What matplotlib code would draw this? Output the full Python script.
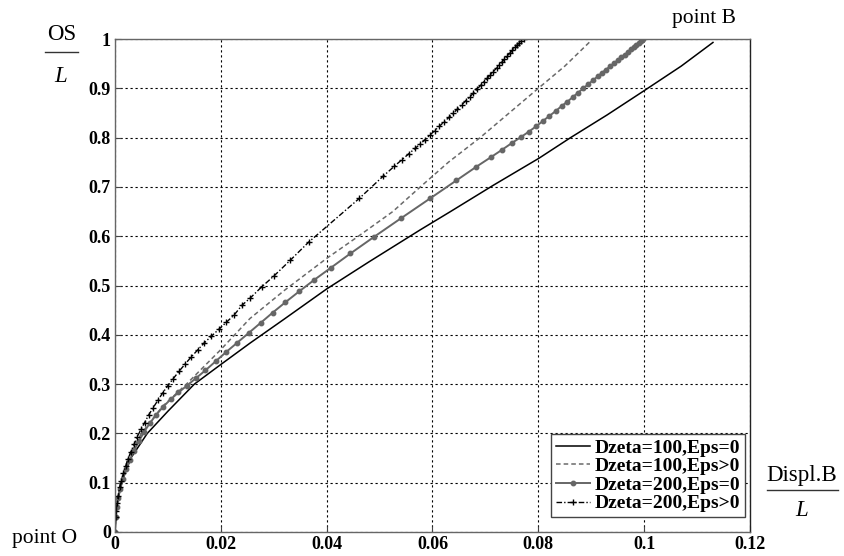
import matplotlib
matplotlib.use("Agg")
import matplotlib.pyplot as plt
from matplotlib.lines import Line2D

# Dzeta=100, Eps=0
x_d100_e0 = [0, 0.0003, 0.0012, 0.003, 0.0061, 0.010, 0.015, 0.0199, 0.0255, 0.032,
             0.040, 0.048, 0.0577, 0.0634, 0.0716, 0.0801, 0.0861, 0.0930, 0.1002, 0.107, 0.113]
y_d100_e0 = [0, 0.05, 0.10, 0.15, 0.20, 0.245, 0.30, 0.339, 0.383, 0.432,
             0.493, 0.548, 0.613, 0.65, 0.704, 0.758, 0.80, 0.846, 0.8966, 0.945, 0.993]

# Dzeta=100, Eps>0
x_d100_ep = [0, 0.0003, 0.001, 0.0025, 0.005, 0.009, 0.0135, 0.02, 0.0255, 0.032,
             0.040, 0.046, 0.0525, 0.0577, 0.063, 0.069, 0.0745, 0.080, 0.085, 0.0898]
y_d100_ep = [0, 0.05, 0.10, 0.15, 0.20, 0.255, 0.30, 0.37, 0.433, 0.49,
             0.555, 0.60, 0.65, 0.70, 0.75, 0.80, 0.85, 0.90, 0.945, 0.995]

# Dzeta=200, Eps=0
x_d200_e0 = [0, 0.0001, 0.0003, 0.0006, 0.001, 0.0015, 0.0021, 0.0028, 0.0036, 0.0045,
             0.0055, 0.0066, 0.0078, 0.0091, 0.0105, 0.012, 0.0136, 0.0153, 0.0171, 0.019,
             0.021, 0.0231, 0.0253, 0.0275, 0.0298, 0.0322, 0.0348, 0.0376, 0.0408, 0.0445,
             0.049, 0.054, 0.0596, 0.0645, 0.0683, 0.071, 0.0731, 0.075, 0.0767, 0.0782,
             0.0796, 0.0809, 0.0821, 0.0833, 0.0844, 0.0855, 0.0865, 0.0875, 0.0885, 0.0894,
             0.0903, 0.0912, 0.092, 0.0928, 0.0936, 0.0943, 0.095, 0.0957, 0.0963, 0.0969,
             0.0975, 0.098, 0.0985, 0.099, 0.0994, 0.0998]
y_d200_e0 = [0, 0.03, 0.05, 0.068, 0.088, 0.107, 0.127, 0.146, 0.165, 0.184,
             0.203, 0.221, 0.238, 0.254, 0.269, 0.283, 0.297, 0.312, 0.328, 0.346,
             0.365, 0.384, 0.404, 0.424, 0.445, 0.466, 0.488, 0.511, 0.536, 0.565,
             0.599, 0.636, 0.677, 0.713, 0.741, 0.760, 0.775, 0.789, 0.801, 0.812,
             0.823, 0.834, 0.844, 0.854, 0.864, 0.873, 0.882, 0.891, 0.900, 0.908,
             0.916, 0.924, 0.931, 0.938, 0.945, 0.951, 0.957, 0.963, 0.968, 0.973,
             0.979, 0.983, 0.987, 0.992, 0.995, 0.999]

# Dzeta=200, Eps>0
x_d200_ep = [0, 0.0001, 0.0002, 0.0004, 0.0006, 0.0009, 0.0012, 0.0016, 0.002, 0.0025,
             0.003, 0.0036, 0.0042, 0.0049, 0.0056, 0.0064, 0.0072, 0.0081, 0.009, 0.01,
             0.011, 0.0121, 0.0132, 0.0144, 0.0156, 0.0169, 0.0182, 0.0196, 0.021, 0.0225,
             0.024, 0.0255, 0.0277, 0.0301, 0.0331, 0.0366, 0.0462, 0.0507, 0.0528, 0.0542,
             0.0555, 0.0567, 0.0577, 0.0586, 0.0595, 0.0604, 0.0613, 0.0622, 0.0631, 0.0639,
             0.0647, 0.0655, 0.0663, 0.0670, 0.0677, 0.0684, 0.0691, 0.0697, 0.0703, 0.0709,
             0.0715, 0.0721, 0.0726, 0.0731, 0.0736, 0.0741, 0.0746, 0.0751, 0.0756, 0.0760,
             0.0764, 0.0768, 0.0772]
y_d200_ep = [0, 0.03, 0.042, 0.059, 0.073, 0.092, 0.103, 0.119, 0.133, 0.149,
             0.163, 0.178, 0.193, 0.208, 0.222, 0.238, 0.252, 0.267, 0.282, 0.297,
             0.311, 0.326, 0.340, 0.355, 0.369, 0.384, 0.397, 0.411, 0.425, 0.440,
             0.460, 0.474, 0.497, 0.520, 0.551, 0.588, 0.677, 0.722, 0.742, 0.755,
             0.767, 0.778, 0.787, 0.796, 0.805, 0.814, 0.823, 0.832, 0.841, 0.849,
             0.858, 0.866, 0.875, 0.882, 0.890, 0.898, 0.906, 0.913, 0.920, 0.927,
             0.934, 0.941, 0.947, 0.953, 0.959, 0.965, 0.971, 0.977, 0.983, 0.988,
             0.992, 0.996, 1.0]

x_ticks = [0, 0.02, 0.04, 0.06, 0.08, 0.1, 0.12]
x_ticklabels = ['0', '0.02', '0.04', '0.06', '0.08', '0.1', '0.12']
y_ticks = [0, 0.1, 0.2, 0.3, 0.4, 0.5, 0.6, 0.7, 0.8, 0.9, 1]
y_ticklabels = ['0', '0.1', '0.2', '0.3', '0.4', '0.5', '0.6', '0.7', '0.8', '0.9', '1']
labels = ['Dzeta=100,Eps=0', 'Dzeta=100,Eps>0', 'Dzeta=200,Eps=0', 'Dzeta=200,Eps>0']

serif = 'Liberation Serif'

fig = plt.figure(figsize=(8.45, 5.56), dpi=100)
ax = fig.add_axes([115/845, 24/556, 635/845, 493/556])

ax.plot(x_d100_e0, y_d100_e0, color='black', lw=1.1, label=labels[0])
ax.plot(x_d100_ep, y_d100_ep, color='#6a6a6a', lw=1.1, ls=(0, (3, 2)), label=labels[1])
ax.plot(x_d200_e0, y_d200_e0, color='#666666', lw=1.4, marker='o', ms=3.2,
        mec='#666666', mfc='#666666', label=labels[2])
ax.plot(x_d200_ep, y_d200_ep, color='black', lw=1.0, ls=(0, (4, 1.5, 1, 1.5)),
        marker='+', ms=5, mew=1.0, label=labels[3])

ax.set_xlim(0, 0.12)
ax.set_ylim(0, 1)
ax.set_xticks(x_ticks)
ax.set_xticklabels(x_ticklabels)
ax.set_yticks(y_ticks)
ax.set_yticklabels(y_ticklabels)
for t in ax.get_xticklabels() + ax.get_yticklabels():
    t.set_fontfamily(serif)
    t.set_fontweight('bold')
    t.set_fontsize(13)
ax.tick_params(direction='in', length=4, width=0.8, color='#444444', pad=3)
ax.grid(True, color='black', ls=(0, (2, 2.5)), lw=0.8)
for s in ax.spines.values():
    s.set_color('#666666')
    s.set_linewidth(1.0)
ax.spines['right'].set_color('#222222')

leg = ax.legend(loc='lower right', bbox_to_anchor=(0.992, 0.03), fancybox=False,
                framealpha=1, edgecolor='#444444', borderpad=0.25, labelspacing=0.05,
                handlelength=1.75, handletextpad=0.25, borderaxespad=0,
                prop={'family': serif, 'weight': 'bold', 'size': 14})
leg.get_frame().set_linewidth(1.0)

# axis annotations
fig.text(62/845, 1 - 35/556, 'OS', family=serif, size=16.5, ha='center', va='center')
fig.add_artist(Line2D([45/845, 78/845], [1 - 52/556, 1 - 52/556], color='#333333', lw=1.0))
fig.text(61/845, 1 - 77/556, 'L', family=serif, style='italic', size=16.5, ha='center', va='center')

fig.text(802/845, 1 - 476/556, 'Displ.B', family=serif, size=16.5, ha='center', va='center')
fig.add_artist(Line2D([767/845, 838/845], [1 - 490/556, 1 - 490/556], color='#333333', lw=1.0))
fig.text(802/845, 1 - 511/556, 'L', family=serif, style='italic', size=16.5, ha='center', va='center')

fig.text(704/845, 1 - 19/556, 'point B', family=serif, size=15.5, ha='center', va='center')
fig.text(45/845, 1 - 539/556, 'point O', family=serif, size=15.5, ha='center', va='center')

fig.savefig('out.png', dpi=100)
